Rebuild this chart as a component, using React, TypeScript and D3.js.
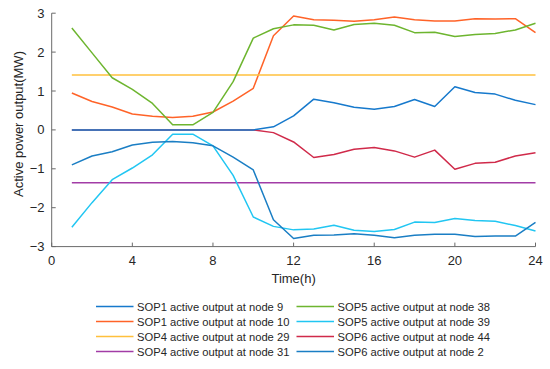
import React from "react";
import * as d3 from "d3";

const hours = d3.range(1, 25);
const sop1Node9 = [0, 0, 0, 0, 0, 0, 0, 0, 0, 0, 0.08, 0.36, 0.79, 0.7, 0.58, 0.53, 0.6, 0.78, 0.6, 1.11, 0.96, 0.92, 0.76, 0.65];
const sop1Node10 = [0.95, 0.73, 0.59, 0.41, 0.35, 0.32, 0.35, 0.46, 0.74, 1.07, 2.42, 2.93, 2.83, 2.82, 2.79, 2.83, 2.9, 2.83, 2.8, 2.8, 2.86, 2.85, 2.86, 2.5];
const sop4Node29 = hours.map(() => 1.41);
const sop4Node31 = hours.map(() => -1.36);
const sop5Node38 = [2.62, 1.98, 1.34, 1.04, 0.68, 0.13, 0.13, 0.45, 1.24, 2.36, 2.6, 2.7, 2.69, 2.57, 2.71, 2.74, 2.69, 2.5, 2.51, 2.4, 2.45, 2.48, 2.57, 2.74];
const sop5Node39 = [-2.5, -1.87, -1.28, -0.98, -0.64, -0.11, -0.11, -0.41, -1.17, -2.24, -2.48, -2.57, -2.55, -2.45, -2.58, -2.61, -2.56, -2.37, -2.38, -2.28, -2.33, -2.35, -2.46, -2.6];
const sop6Node44 = [0, 0, 0, 0, 0, 0, 0, 0, 0, 0, -0.07, -0.31, -0.71, -0.63, -0.5, -0.45, -0.54, -0.7, -0.52, -1.01, -0.86, -0.83, -0.67, -0.59];
const sop6Node2 = [-0.9, -0.67, -0.56, -0.39, -0.32, -0.3, -0.33, -0.41, -0.7, -1.03, -2.31, -2.79, -2.71, -2.7, -2.67, -2.71, -2.77, -2.71, -2.68, -2.68, -2.74, -2.73, -2.73, -2.38];

const seriesNames = [
  "SOP1 active output at node 9",
  "SOP1 active output at node 10",
  "SOP4 active output at node 29",
  "SOP4 active output at node 31",
  "SOP5 active output at node 38",
  "SOP5 active output at node 39",
  "SOP6 active output at node 44",
  "SOP6 active output at node 2",
];
const seriesValues = [sop1Node9, sop1Node10, sop4Node29, sop4Node31, sop5Node38, sop5Node39, sop6Node44, sop6Node2];
const colors = ["#1679CC", "#FF6328", "#FFC03C", "#A23CA6", "#6DB52F", "#21C6F2", "#D02A4A", "#1A7EC4"];
const drawOrder = [6, 0, 1, 2, 3, 4, 5, 7];

const xTicks = [0, 4, 8, 12, 16, 20, 24];
const yTicks = [-3, -2, -1, 0, 1, 2, 3];

export default function App() {
  const W = 550, H = 369;
  const x = d3.scaleLinear().domain([0, 24]).range([51.7, 535.5]);
  const y = d3.scaleLinear().domain([-3, 3]).range([246.6, 13.2]);
  const line = d3.line<number>().x((_, i) => x(hours[i])).y((d) => y(d));
  const axisColor = "#6a6a6a";
  const font = "'Liberation Sans', Arial, sans-serif";
  const legendX = [96, 296.5];
  const legendY0 = 306.5, legendDy = 15;

  return (
    <svg width={W} height={H} style={{ position: "absolute", left: 0, top: 0 }} fontFamily={font}>
      <rect width={W} height={H} fill="#fff" />
      {drawOrder.map((k) => (
        <path key={k} d={line(seriesValues[k]) || ""} fill="none" stroke={colors[k]} strokeWidth={1.5} strokeLinejoin="round" />
      ))}
      {/* axes */}
      <line x1={x(0)} x2={x(24)} y1={y(-3)} y2={y(-3)} stroke={axisColor} strokeWidth={1} />
      <line x1={x(0)} x2={x(0)} y1={y(-3)} y2={y(3)} stroke={axisColor} strokeWidth={1} />
      {xTicks.map((t) => (
        <g key={"x" + t}>
          <line x1={x(t)} x2={x(t)} y1={y(-3)} y2={y(-3) - 4} stroke={axisColor} />
          <text x={x(t)} y={264.5} textAnchor="middle" fontSize={13} fill="#262626">{t}</text>
        </g>
      ))}
      {yTicks.map((t) => (
        <g key={"y" + t}>
          <line x1={x(0)} x2={x(0) + 4} y1={y(t)} y2={y(t)} stroke={axisColor} />
          <text x={44.5} y={y(t)} dy="0.35em" textAnchor="end" fontSize={13} fill="#262626">{t < 0 ? "\u2212" + Math.abs(t) : t}</text>
        </g>
      ))}
      <text x={293.6} y={283} textAnchor="middle" fontSize={13} fill="#262626">Time(h)</text>
      <text transform={`translate(22.5,124) rotate(-90)`} textAnchor="middle" fontSize={13} fill="#262626">Active power output(MW)</text>
      {/* legend */}
      {seriesNames.map((name, i) => {
        const col = Math.floor(i / 4);
        const row = i % 4;
        const lx = legendX[col];
        const ly = legendY0 + row * legendDy;
        return (
          <g key={name}>
            <line x1={lx} x2={lx + 37.5} y1={ly} y2={ly} stroke={colors[i]} strokeWidth={1.5} />
            <text x={lx + 41} y={ly} dy="0.36em" fontSize={11.2} fill="#262626">{name}</text>
          </g>
        );
      })}
    </svg>
  );
}
